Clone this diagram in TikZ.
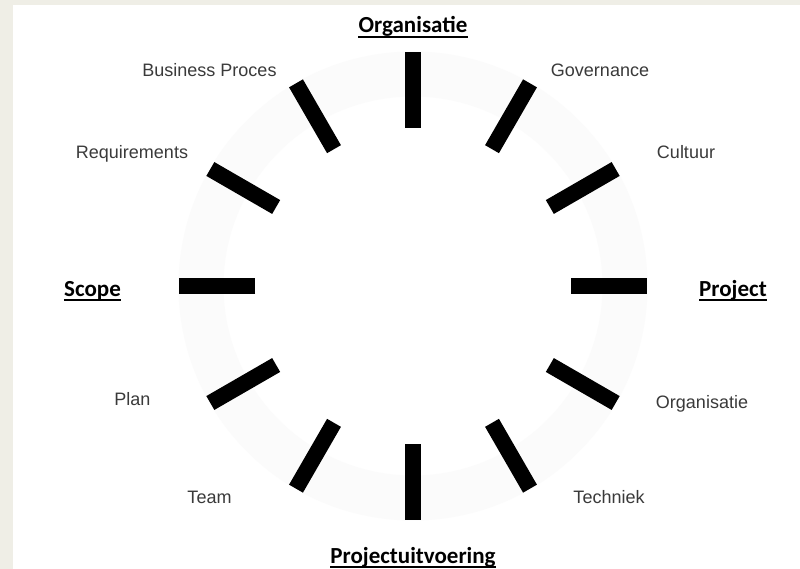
\documentclass[tikz,border=0pt]{standalone}
\usepackage{fontspec}
\setmainfont{Liberation Sans}
\newfontfamily\carlitofont{Carlito}
\definecolor{beige}{HTML}{EFEEE6}
\definecolor{ringgray}{HTML}{FBFBFB}
\definecolor{labelgray}{HTML}{3A3A3A}
\begin{document}
\begin{tikzpicture}[x=1pt,y=-1pt,
  lbl/.style={font=\fontsize{18}{21}\selectfont, text=labelgray, inner sep=0pt, anchor=base},
  head/.style={font=\carlitofont\bfseries\fontsize{23}{27}\selectfont, inner sep=0pt, anchor=base},
  uline/.style={line width=1.3pt},
  tickbar/.style={line width=16pt, line cap=butt}]
\fill[beige] (0,0) rectangle (800,569);
\fill[white] (13,5) rectangle (800,569);
\useasboundingbox (0,0) rectangle (800,569);
\coordinate (c) at (413,286);
\draw[ringgray, line width=45pt] (c) circle (212pt);
\foreach \a in {0,30,...,330}
  \draw[tickbar, shift={(c)}] (\a:158) -- (\a:234);
% light labels
\node[lbl] (bp)   at (209.5,77) {Business Proces};
\node[lbl] (gov)  at (600,77)   {Governance};
\node[lbl] (req)  at (132,159)  {Requirements};
\node[lbl] (cult) at (686,159)  {Cultuur};
\node[lbl] (plan) at (132.5,405) {Plan};
\node[lbl] (org2) at (702,408)  {Organisatie};
\node[lbl] (team) at (209.5,503) {Team};
\node[lbl] (tech) at (609,503)  {Techniek};
% headings
\node[head] (org)   at (413,33)  {Organisatie};
\node[head] (scope) at (92.5,296) {Scope};
\node[head] (proj)  at (733,296) {Project};
\node[head] (pu)    at (413,563) {Projectuitvoering};
\foreach \n in {org,scope,proj,pu}
  \draw[uline] ([yshift=-4pt]\n.base west) -- ([yshift=-4pt]\n.base east);
\end{tikzpicture}
\end{document}
